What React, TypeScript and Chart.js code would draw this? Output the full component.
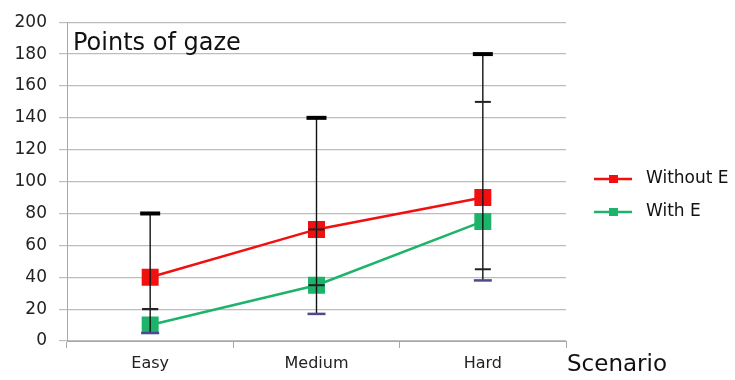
import React, { useEffect, useRef } from "react";
import { Chart, registerables } from "chart.js";

Chart.register(...registerables);

const categories = ["Easy", "Medium", "Hard"];
const withoutE = [40, 70, 90];
const withoutEHigh = [80, 140, 180];
const withoutELow = [20, 70, 45];
const withE = [10, 35, 75];
const withEHigh = [20, 35, 150];
const withELow = [5, 17, 38];
const yTicks = [0, 20, 40, 60, 80, 100, 120, 140, 160, 180, 200];

const RED = "#f20f0f";
const GREEN = "#1db36a";
const FONT = "'DejaVu Sans', Verdana, sans-serif";

const overlayPlugin = {
  id: "overlay",
  afterDatasetsDraw(chart: any) {
    const ctx = chart.ctx;
    const xs = chart.scales.x;
    const ys = chart.scales.y;
    ctx.save();
    categories.forEach((_, i) => {
      const x = xs.getPixelForValue(i);
      const lo = Math.min(withoutELow[i], withELow[i]);
      const hi = Math.max(withoutEHigh[i], withEHigh[i]);
      ctx.strokeStyle = "#111";
      ctx.lineWidth = 1.4;
      ctx.beginPath();
      ctx.moveTo(x, ys.getPixelForValue(lo));
      ctx.lineTo(x, ys.getPixelForValue(hi));
      ctx.stroke();
      const cap = (v: number, w: number, lw: number, col: string) => {
        const y = ys.getPixelForValue(v);
        ctx.strokeStyle = col;
        ctx.lineWidth = lw;
        ctx.beginPath();
        ctx.moveTo(x - w / 2, y);
        ctx.lineTo(x + w / 2, y);
        ctx.stroke();
      };
      cap(withoutEHigh[i], 20, 4, "#000");
      cap(withoutELow[i], 16, 2, "#222");
      cap(withEHigh[i], 16, 2, "#222");
      cap(withELow[i], 18, 2.5, "#4a4a8c");
    });
    // title
    ctx.fillStyle = "#111";
    ctx.font = `24px ${FONT}`;
    ctx.textAlign = "left";
    ctx.textBaseline = "alphabetic";
    ctx.fillText("Points of gaze", 73, 50);
    // axis title
    ctx.font = `23px ${FONT}`;
    ctx.textBaseline = "middle";
    ctx.fillText("Scenario", 567, 365);
    // legend
    const items = [
      { label: "Without E", color: RED, y: 179 },
      { label: "With E", color: GREEN, y: 212 },
    ];
    ctx.font = `17px ${FONT}`;
    items.forEach((it) => {
      ctx.strokeStyle = it.color;
      ctx.lineWidth = 2.5;
      ctx.beginPath();
      ctx.moveTo(594, it.y);
      ctx.lineTo(632, it.y);
      ctx.stroke();
      ctx.fillStyle = it.color;
      ctx.fillRect(609, it.y - 4, 9, 8);
      ctx.fillStyle = "#111";
      ctx.fillText(it.label, 646, it.y);
    });
    ctx.restore();
  },
};

export default function App() {
  const ref = useRef<HTMLCanvasElement>(null);
  useEffect(() => {
    if (!ref.current) return;
    const chart = new Chart(ref.current, {
      type: "line",
      data: {
        labels: categories,
        datasets: [
          {
            label: "Without E",
            data: withoutE,
            borderColor: RED,
            backgroundColor: RED,
            borderWidth: 2.5,
            pointStyle: "rect",
            pointRadius: 12,
            pointHoverRadius: 12,
            pointBorderWidth: 0,
            tension: 0,
          },
          {
            label: "With E",
            data: withE,
            borderColor: GREEN,
            backgroundColor: GREEN,
            borderWidth: 2.5,
            pointStyle: "rect",
            pointRadius: 12,
            pointHoverRadius: 12,
            pointBorderWidth: 0,
            tension: 0,
          },
        ],
      },
      options: {
        animation: false,
        responsive: false,
        devicePixelRatio: 1,
        layout: { padding: { left: 0, right: 169, top: 20, bottom: 0 } },
        plugins: {
          legend: { display: false },
          tooltip: { enabled: false },
        },
        scales: {
          x: {
            type: "category",
            offset: true,
            grid: {
              offset: true,
              drawOnChartArea: false,
              drawTicks: true,
              tickLength: 7,
              color: "#a8a8a8",
            },
            border: { color: "#a8a8a8", width: 1 },
            ticks: {
              color: "#222",
              font: { family: FONT, size: 16 },
              padding: 6,
              maxRotation: 0,
            },
            afterFit: (s: any) => {
              s.height = 39;
            },
          },
          y: {
            min: 0,
            max: 200,
            afterBuildTicks: (s: any) => {
              s.ticks = yTicks.map((v) => ({ value: v }));
            },
            grid: {
              color: "#bdbdbd",
              tickLength: 8,
              lineWidth: 1.2,
            },
            border: { color: "#a8a8a8", width: 1 },
            ticks: {
              color: "#222",
              font: { family: FONT, size: 17 },
              padding: 12,
            },
            afterFit: (s: any) => {
              s.width = 67;
            },
          },
        },
      },
      plugins: [overlayPlugin],
    });
    return () => chart.destroy();
  }, []);
  return (
    <div style={{ position: "fixed", left: 0, top: 0, width: 735, height: 380, background: "#fff" }}>
      <canvas ref={ref} width={735} height={380} style={{ width: 735, height: 380 }} />
    </div>
  );
}
